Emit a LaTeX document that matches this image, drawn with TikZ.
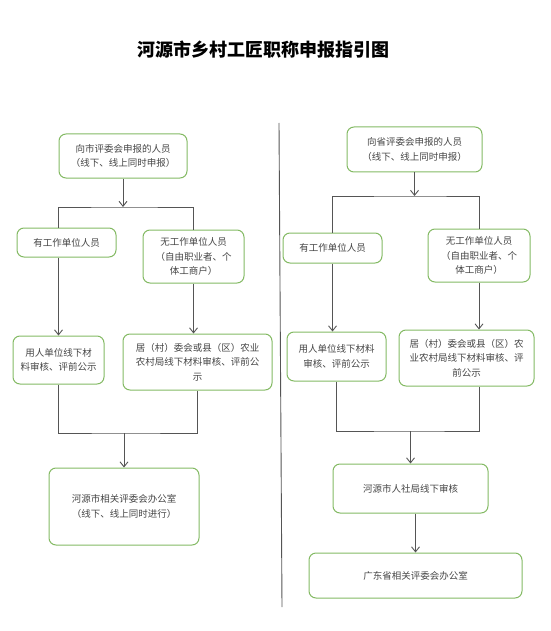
\documentclass[tikz,border=0pt]{standalone}
\usepackage{fontspec}
\newfontfamily\cjk{Noto Sans CJK SC}
\usetikzlibrary{positioning,arrows.meta,calc}
\definecolor{boxgreen}{RGB}{132,186,100}
\definecolor{linegray}{RGB}{85,85,85}
\definecolor{txtgray}{RGB}{70,70,70}

\begin{document}
\begin{tikzpicture}[
  x=1pt,y=-1pt,
  box/.style={draw=boxgreen,line width=1pt,rounded corners=7pt,fill=white,
    align=center,inner sep=2pt,font=\cjk\fontsize{9.5}{14.5}\selectfont,text=txtgray},
  ln/.style={draw=linegray,line width=0.9pt},
  arr/.style={ln,-{Straight Barb[length=5pt,width=8pt]}},
]
\useasboundingbox (0,0) rectangle (550,631);

% === Title ===
\node[font=\cjk\bfseries\fontsize{18}{22}\selectfont] (title) at (263,50) {河源市乡村工匠职称申报指引图};

% === Left: city committee ===
\node[box,minimum width=128pt,minimum height=44pt] (lApply) at (123,156) {向市评委会申报的人员\\（线下、线上同时申报）};
\node[box,minimum width=99pt,minimum height=29pt] (lUnit) at (66.5,242.5) {有工作单位人员};
\node[box,minimum width=101pt,minimum height=53pt] (lFree) at (193.5,256.5) {无工作单位人员\\（自由职业者、个\\体工商户）};
\node[box,minimum width=91pt,minimum height=48pt] (lUnitChk) at (58.5,360) {用人单位线下材\\料审核、评前公示};
\node[box,minimum width=149pt,minimum height=56pt] (lFreeChk) at (197.5,362) {居（村）委会或县（区）农业\\农村局线下材料审核、评前公\\示};
\node[box,minimum width=150pt,minimum height=77pt] (lOffice) at (124,506.5) {河源市相关评委会办公室\\（线下、线上同时进行）};

\coordinate (lSplit) at (123,207);
\coordinate (lJoin) at (124,433);

\draw[arr] (lApply.south) -- (lSplit);
\draw[ln] (lUnit.north -| lUnitChk) |- (lSplit) -| (lFree.north);
\draw[arr] (lUnit.south -| lUnitChk) -- (lUnitChk.north);
\draw[arr] (lFree.south) -- (lFree.south |- lFreeChk.north);
\draw[ln] (lUnitChk.south) |- (lJoin) -| (lFreeChk.south);
\draw[arr] (lJoin) -- (lOffice.north);

% === Separator ===
\coordinate (sepTop) at (279,123);
\coordinate (sepBot) at (282,607);
\draw[ln] (sepTop) -- (sepBot);

% === Right: province committee ===
\node[box,minimum width=135pt,minimum height=45pt] (rApply) at (414.5,149.5) {向省评委会申报的人员\\（线下、线上同时申报）};
\node[box,minimum width=99pt,minimum height=30pt] (rUnit) at (332.5,248) {有工作单位人员};
\node[box,minimum width=102pt,minimum height=53pt] (rFree) at (479,255.5) {无工作单位人员\\（自由职业者、个\\体工商户）};
\node[box,minimum width=99pt,minimum height=49pt] (rUnitChk) at (336.5,356.5) {用人单位线下材料\\审核、评前公示};
\node[box,minimum width=135pt,minimum height=56pt] (rFreeChk) at (466.5,358) {居（村）委会或县（区）农\\业农村局线下材料审核、评\\前公示};
\node[box,minimum width=155pt,minimum height=49pt] (rCheck) at (410.5,488.5) {河源市人社局线下审核};
\node[box,minimum width=213pt,minimum height=45pt] (rOffice) at (415.5,575.5) {广东省相关评委会办公室};

\coordinate (rSplit) at (414.5,196);
\coordinate (rJoin) at (410.5,431);

\draw[arr] (rApply.south) -- (rSplit);
\draw[ln] (rUnit.north) |- (rSplit) -| (rFree.north);
\draw[arr] (rUnit.south) -- (rUnit.south |- rUnitChk.north);
\draw[arr] (rFree.south) -- (rFree.south |- rFreeChk.north);
\draw[ln] (rUnitChk.south) |- (rJoin) -| (rFree.south |- rFreeChk.south);
\draw[arr] (rJoin) -- (rCheck.north);
\draw[arr] (rCheck.south -| rOffice) -- (rOffice.north);

\end{tikzpicture}
\end{document}
